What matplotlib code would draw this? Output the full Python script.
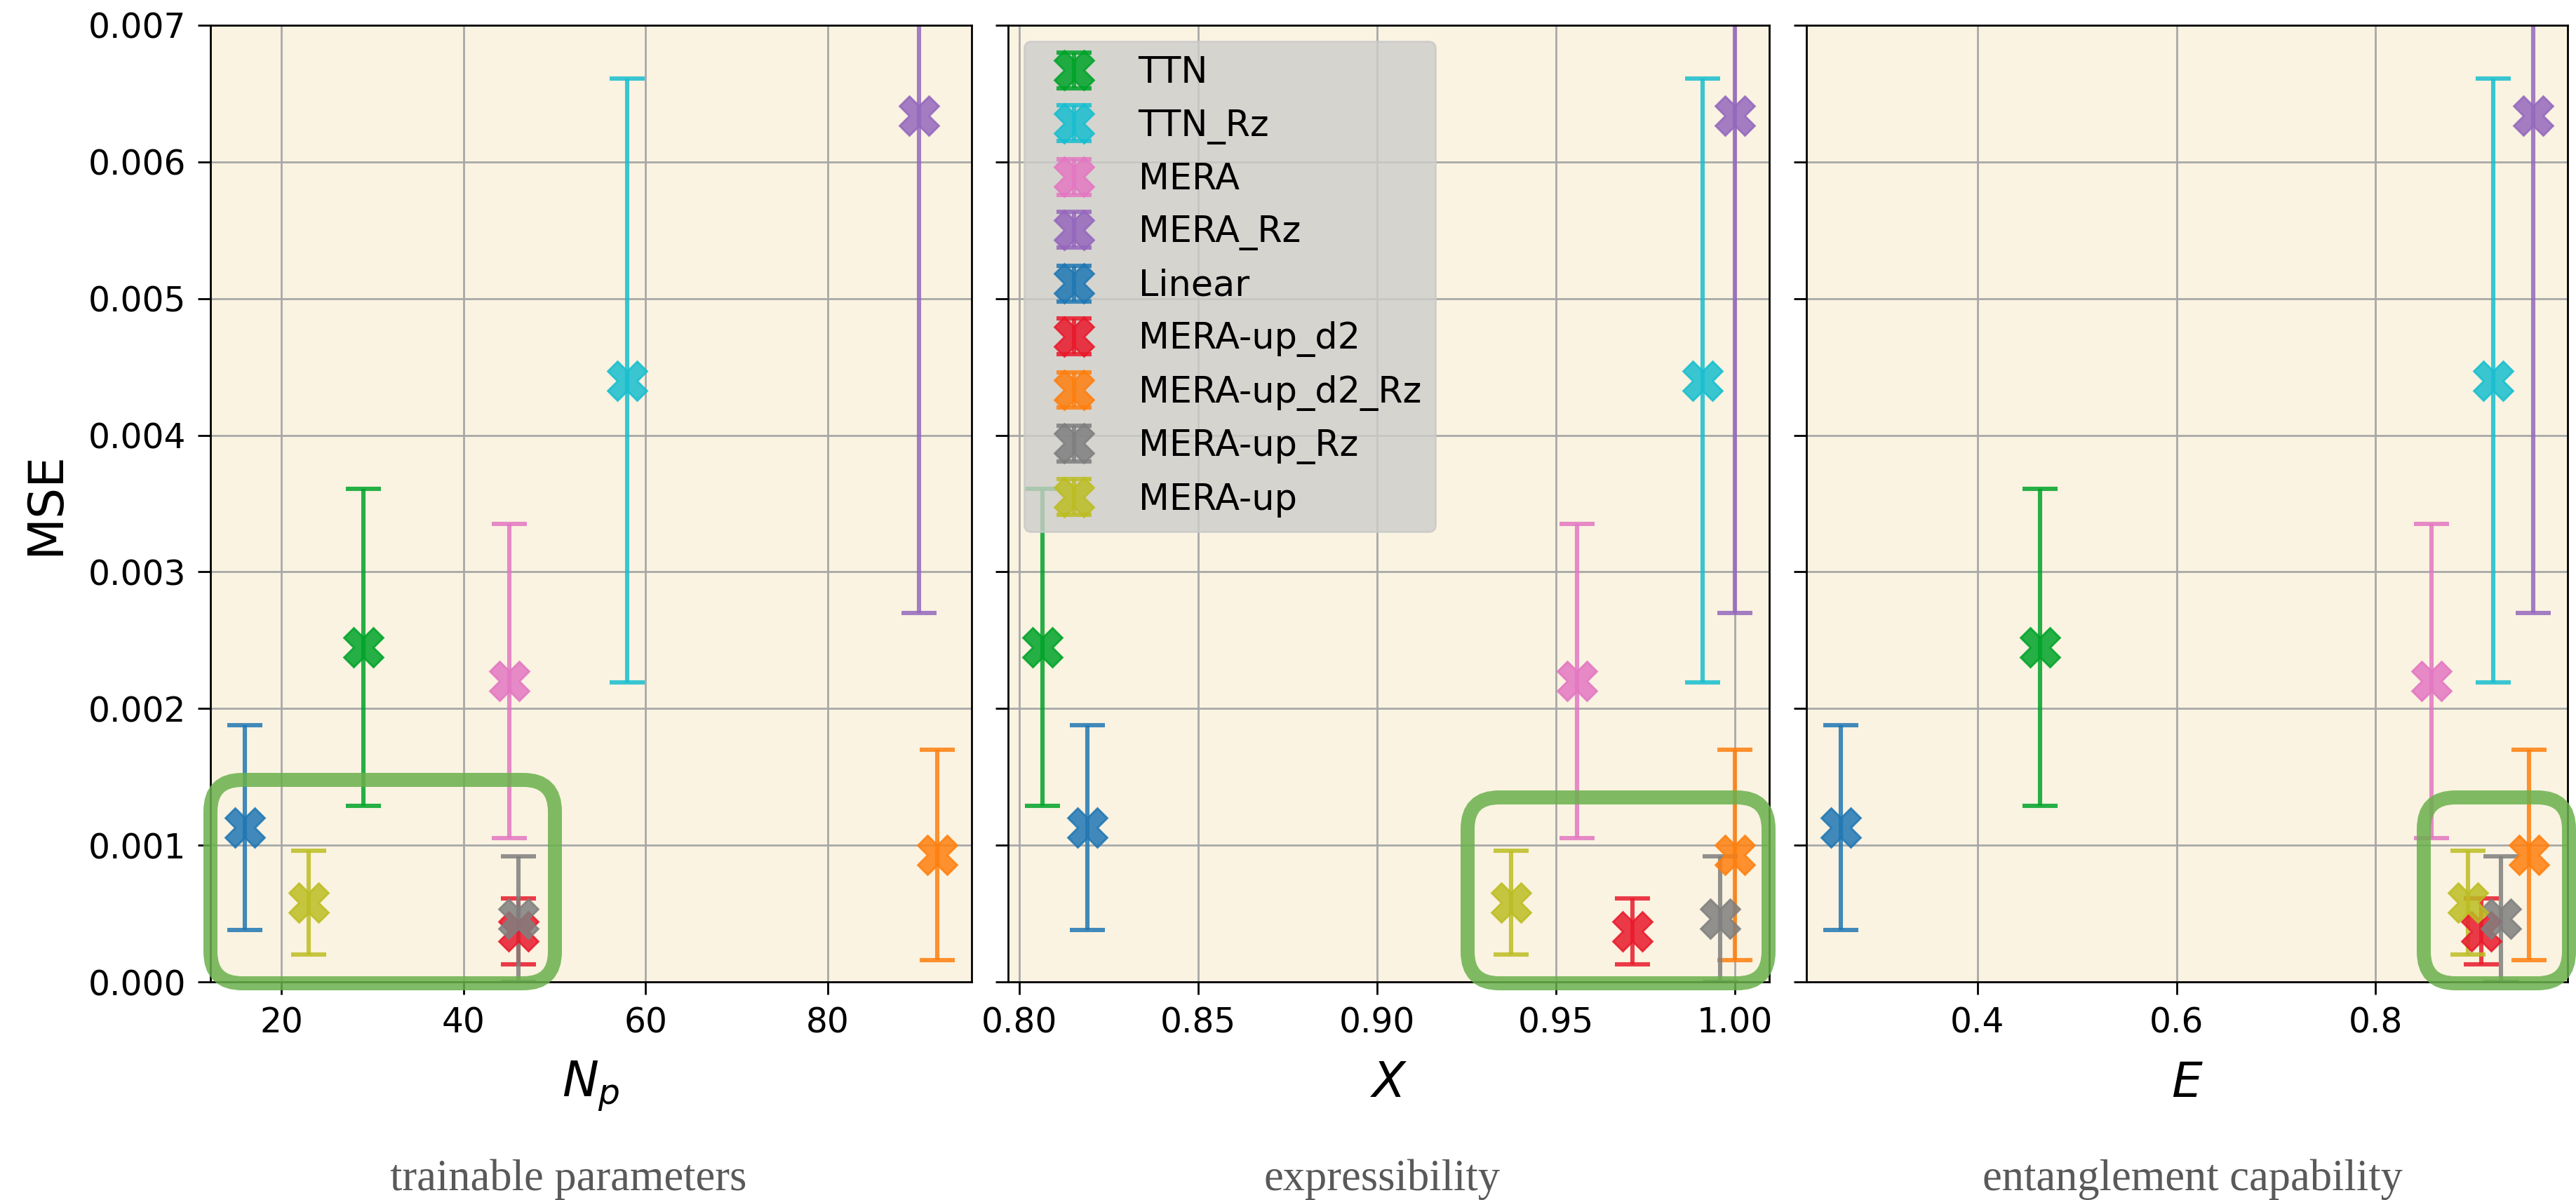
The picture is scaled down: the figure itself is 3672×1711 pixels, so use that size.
import matplotlib
matplotlib.use("Agg")
import matplotlib.pyplot as plt
from matplotlib.patches import FancyBboxPatch

# data
labels = ["TTN", "TTN_Rz", "MERA", "MERA_Rz", "Linear",
          "MERA-up_d2", "MERA-up_d2_Rz", "MERA-up_Rz", "MERA-up"]
colors = ["#00a329", "#17becf", "#e377c2", "#9467bd", "#1f77b4",
          "#e8192c", "#ff7f0e", "#7f7f7f", "#bcbd22"]
n_params = [29, 58, 45, 90, 16, 46, 92, 46, 23]
expressibility = [0.8065, 0.991, 0.956, 1.0, 0.819, 0.9715, 1.0, 0.996, 0.9375]
entanglement = [0.463, 0.918, 0.856, 0.958, 0.263, 0.906, 0.954, 0.926, 0.893]
mse = [0.00245, 0.0044, 0.0022, 0.00634, 0.00113, 0.00037, 0.00093, 0.00046, 0.00058]
mse_err = [0.00116, 0.00221, 0.00115, 0.00364, 0.00075, 0.00024, 0.00077, 0.00046, 0.00038]

x_labels = [r"$N_p$", r"$X$", r"$E$"]
captions = ["trainable parameters", "expressibility", "entanglement capability"]

DPI = 200
fig = plt.figure(figsize=(3672 / DPI, 1711 / DPI), dpi=DPI)

W, H = 3672, 1711
lefts = [300, 1437, 2575]
ax_w, top, bottom = 1085, 36, 1400

axes = []
for i, left in enumerate(lefts):
    rect = [left / W, (H - bottom) / H, ax_w / W, (bottom - top) / H]
    ax = fig.add_axes(rect, sharey=axes[0] if axes else None)
    axes.append(ax)

xdata = [n_params, expressibility, entanglement]
for i, ax in enumerate(axes):
    ax.set_facecolor("#faf3e1")
    ax.set_axisbelow(True)
    ax.grid(True, color="#a8a8a8", linewidth=1.0)
    for j in range(len(labels)):
        ax.errorbar(xdata[i][j], mse[j], yerr=mse_err[j], fmt="X", color=colors[j],
                    markersize=20, elinewidth=2.2, capsize=9, capthick=2.2,
                    alpha=0.85, label=labels[j])
    ax.set_ylim(0, 0.007)
    ax.set_xlabel(x_labels[i], fontsize=25, labelpad=10)
    ax.tick_params(labelsize=17.5, length=6.5, width=1.0, pad=6)
    for s in ax.spines.values():
        s.set_linewidth(1.0)
    if i > 0:
        ax.tick_params(labelleft=False)

axes[0].set_yticks([0.000, 0.001, 0.002, 0.003, 0.004, 0.005, 0.006, 0.007])
axes[0].set_yticklabels(["0.000", "0.001", "0.002", "0.003", "0.004", "0.005", "0.006", "0.007"])
axes[0].set_ylabel("MSE", fontsize=25, labelpad=10)
axes[1].set_xticks([0.80, 0.85, 0.90, 0.95, 1.00])
axes[1].set_xticklabels(["0.80", "0.85", "0.90", "0.95", "1.00"])

axes[1].legend(loc="upper left", fontsize=18.3, facecolor="#cdcdcb",
               framealpha=0.8, edgecolor="#c8c8c8", borderaxespad=0.45)

# captions under each panel
cap_x = [810, 1970, 3125]
for cx, txt in zip(cap_x, captions):
    fig.text(cx / W, (H - 1697) / H, txt, ha="center", va="baseline",
             fontsize=22.5, family="Liberation Serif", color="#595959")

# green highlight boxes (pixel coords: left, right, top, bottom)
boxes = [(300, 791, 1112, 1402), (2092, 2521, 1137, 1402), (3455, 3662, 1137, 1402)]
for l, r, t, b in boxes:
    p = FancyBboxPatch(((l) / DPI, (H - b) / DPI), (r - l) / DPI, (b - t) / DPI,
                       boxstyle="round,pad=0,rounding_size=%f" % (45 / DPI),
                       transform=fig.dpi_scale_trans, facecolor="none",
                       edgecolor="#6ab04c", linewidth=7.2, alpha=0.85, zorder=5)
    fig.add_artist(p)

fig.savefig("out.png", dpi=DPI)
